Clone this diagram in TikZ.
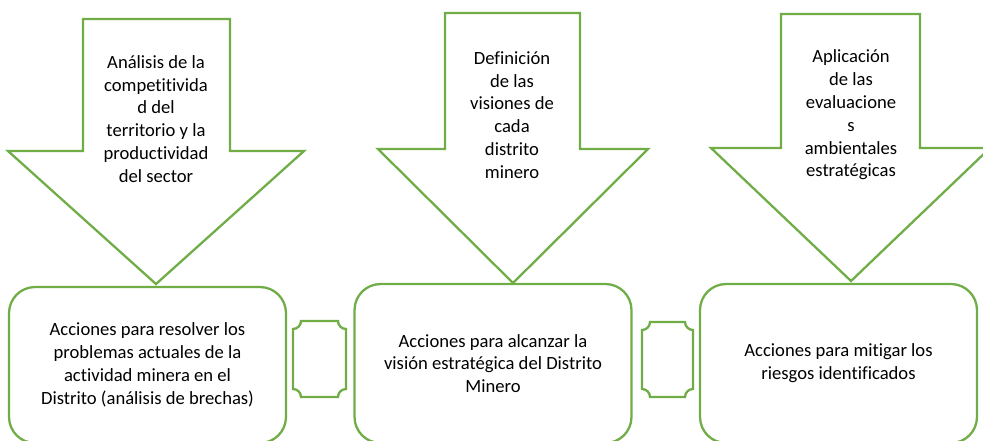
\documentclass[tikz,border=0pt]{standalone}
\usepackage{fontspec}
\setmainfont{Carlito}[Ligatures=NoCommon]
\usetikzlibrary{positioning}
\definecolor{hojaverde}{HTML}{70AD47}
\tikzset{
    flecha/.style={draw=hojaverde, line width=1.3pt, fill=white, line join=miter},
    accion/.style={rectangle, rounded corners=0.52cm, draw=hojaverde, line width=1.3pt, minimum width=5.54cm, align=center, font=\fontsize{10.6}{13}\selectfont},
    texto/.style={align=center, font=\fontsize{10.6}{13}\selectfont},
    enlace/.style={draw=hojaverde, line width=1.3pt}
}
% placa con esquinas hacia dentro: x1 y1 x2 y2
\newcommand{\placa}[4]{%
  \draw[enlace] ({#1+8},#2) -- ({#3-8},#2)
    .. controls ({#3-8},{#2+4.4}) and ({#3-4.4},{#2+8}) .. (#3,{#2+8})
    -- (#3,{#4-8})
    .. controls ({#3-4.4},{#4-8}) and ({#3-8},{#4-4.4}) .. ({#3-8},#4)
    -- ({#1+8},#4)
    .. controls ({#1+8},{#4-4.4}) and ({#1+4.4},{#4-8}) .. (#1,{#4-8})
    -- (#1,{#2+8})
    .. controls ({#1+4.4},{#2+8}) and ({#1+8},{#2+4.4}) .. ({#1+8},#2) -- cycle;}

\begin{document}
\begin{tikzpicture}[x=0.02cm, y=-0.02cm]
  \useasboundingbox (0,0) rectangle (983,440);

  % flechas de arriba
  \draw[flecha] (83,19) -- (230,19) -- (230,151) -- (304,151) -- (156,284) -- (8,151) -- (83,151) -- cycle;
  \draw[flecha] (445,13) -- (580,13) -- (580,149) -- (648,149) -- (513,283) -- (378,149) -- (445,149) -- cycle;
  \draw[flecha] (781,14) -- (920,14) -- (920,148) -- (990,148) -- (851,281) -- (711,148) -- (781,148) -- cycle;

  \node[texto] (analisis) at (156,119)
    {Análisis de la\\competitivida\\d del\\territorio y la\\productividad\\del sector};
  \node[texto] (definicion) at (512,115)
    {Definición\\de las\\visiones de\\cada\\distrito\\minero};
  \node[texto] (aplicacion) at (851,115)
    {Aplicación\\de las\\evaluacione\\s\\ambientales\\estratégicas};

  % cajas de acciones
  \node[accion, minimum height=3.12cm] (resolver) at (147.5,365)
    {Acciones para resolver los\\problemas actuales de la\\actividad minera en el\\Distrito (análisis de brechas)};
  \node[accion, minimum height=3.18cm] (alcanzar) at (493,363.5)
    {Acciones para alcanzar la\\visión estratégica del Distrito\\Minero};
  \node[accion, minimum height=3.18cm] (mitigar) at (838.5,363.5)
    {Acciones para mitigar los\\riesgos identificados};

  % placas entre cajas
  \placa{293}{321}{346}{397}
  \placa{642}{322}{693}{397}
\end{tikzpicture}
\end{document}
